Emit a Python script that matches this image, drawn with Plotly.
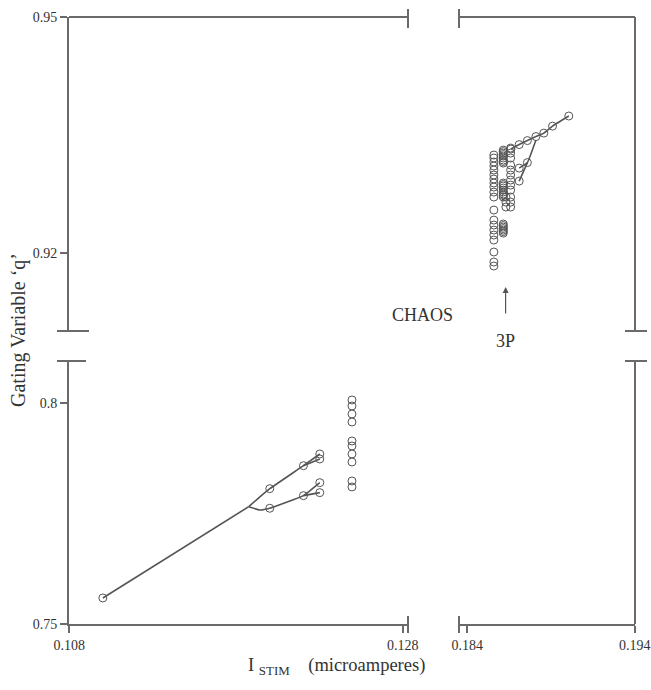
import plotly.graph_objects as go

# ---------------- data ----------------
# bottom-left panel (I_stim 0.108-0.128)
bl_p1_x = [0.11002, 0.11877]
bl_p1_y = [0.75588, 0.77654]
bl_up_x = [0.11877, 0.11927, 0.12003, 0.12205, 0.12303]
bl_up_y = [0.77654, 0.77821, 0.78061, 0.78581, 0.78846]
bl_upfork_x = [0.12205, 0.12303]
bl_upfork_y = [0.78581, 0.78733]
bl_lo_x = [0.11877, 0.11943, 0.12003, 0.12205, 0.12303]
bl_lo_y = [0.77654, 0.77579, 0.77618, 0.77903, 0.78197]
bl_lofork_x = [0.12205, 0.12303]
bl_lofork_y = [0.77903, 0.77971]
bl_pts_x = [0.11002, 0.12003, 0.12205, 0.12303, 0.12303, 0.12003, 0.12205, 0.12303, 0.12303]
bl_pts_y = [0.75588, 0.78061, 0.78581, 0.78846, 0.78733, 0.77618, 0.77903, 0.78197, 0.77971]
bl_col_x = 0.12496
bl_col_y = [0.80068, 0.79932, 0.79751, 0.79570, 0.79140, 0.79027, 0.78846, 0.78665, 0.78235, 0.78100]

# top-right panel (I_stim 0.184-0.194)
tr_p1_x = [0.19006, 0.18909, 0.18857, 0.18810]
tr_p1_y = [0.93742, 0.93614, 0.93525, 0.93481]
tr_up_x = [0.18810, 0.18759, 0.18710, 0.18661]
tr_up_y = [0.93481, 0.93430, 0.93379, 0.93322]
tr_lo_x = [0.18810, 0.18759, 0.18710]
tr_lo_y = [0.93436, 0.93150, 0.93080]
tr_lofork_x = [0.18759, 0.18710]
tr_lofork_y = [0.93150, 0.92915]
tr_pts_x = [0.19006, 0.18909, 0.18857, 0.18810, 0.18759, 0.18710, 0.18661, 0.18759, 0.18710, 0.18710]
tr_pts_y = [0.93742, 0.93614, 0.93525, 0.93481, 0.93430, 0.93379, 0.93322, 0.93150, 0.93080, 0.92915]
chaos_a_x = 0.18559
chaos_a_y = [0.93246, 0.93208, 0.93157, 0.93106, 0.93055, 0.92992, 0.92941, 0.92890, 0.92839,
             0.92775, 0.92712, 0.92547, 0.92419, 0.92356, 0.92292, 0.92229, 0.92165, 0.92013,
             0.91886, 0.91835]
chaos_b_x = 0.18615
chaos_b_y = [0.93309, 0.93290, 0.93271, 0.93252, 0.93233, 0.93208, 0.93182, 0.93163, 0.93144,
             0.92890, 0.92871, 0.92852, 0.92827, 0.92801, 0.92776, 0.92750, 0.92731, 0.92712,
             0.92369, 0.92350, 0.92330, 0.92311, 0.92292, 0.92273, 0.92254]
chaos_c_x = 0.18659
chaos_c_y = [0.93335, 0.93271, 0.93208, 0.93119, 0.93055, 0.92992, 0.92928, 0.92864, 0.92801,
             0.92712, 0.92648, 0.92585]
chaos_d_x = 0.18631
chaos_d_y = [0.92712, 0.92648, 0.92585]

# tick labels
x_left_ticks = [0.108, 0.128]
x_right_ticks = [0.184, 0.194]
y_bottom_ticks = [0.75, 0.8]
y_top_ticks = [0.92, 0.95]

# ---------------- figure ----------------
LC = "#555555"
AC = "#6a6a6a"
FONT = "Liberation Serif"
marker = dict(symbol="circle-open", size=8, color=LC, line=dict(width=1, color=LC))

fig = go.Figure()

def line(x, y, xa, ya):
    fig.add_trace(go.Scatter(x=x, y=y, mode="lines", xaxis=xa, yaxis=ya,
                             line=dict(color=LC, width=1.6, shape="spline", smoothing=0.3),
                             hoverinfo="skip", showlegend=False))

def pts(x, y, xa, ya):
    fig.add_trace(go.Scatter(x=x, y=y, mode="markers", xaxis=xa, yaxis=ya,
                             marker=marker, showlegend=False))

line(bl_p1_x, bl_p1_y, "x", "y")
line(bl_up_x, bl_up_y, "x", "y")
line(bl_upfork_x, bl_upfork_y, "x", "y")
line(bl_lo_x, bl_lo_y, "x", "y")
line(bl_lofork_x, bl_lofork_y, "x", "y")
pts(bl_pts_x, bl_pts_y, "x", "y")
pts([bl_col_x] * len(bl_col_y), bl_col_y, "x", "y")

line(tr_p1_x, tr_p1_y, "x2", "y2")
line(tr_up_x, tr_up_y, "x2", "y2")
line(tr_lo_x, tr_lo_y, "x2", "y2")
line(tr_lofork_x, tr_lofork_y, "x2", "y2")
pts(tr_pts_x, tr_pts_y, "x2", "y2")
pts([chaos_a_x] * len(chaos_a_y), chaos_a_y, "x2", "y2")
pts([chaos_b_x] * len(chaos_b_y), chaos_b_y, "x2", "y2")
pts([chaos_c_x] * len(chaos_c_y), chaos_c_y, "x2", "y2")
pts([chaos_d_x] * len(chaos_d_y), chaos_d_y, "x2", "y2")

W, H = 651, 690
def px(v): return v / W
def py(v): return (H - v) / H

axis_common = dict(showgrid=False, zeroline=False, showline=True, linecolor=AC, linewidth=2,
                   ticks="outside", ticklen=7, tickwidth=1.5, tickcolor=AC,
                   tickfont=dict(family=FONT, size=14, color="#333333"), automargin=False,
                   ticklabeloverflow="allow")

fig.update_layout(
    width=W, height=H, margin=dict(l=0, r=0, t=0, b=0),
    paper_bgcolor="white", plot_bgcolor="white",
    xaxis=dict(domain=[px(69), px(408)], range=[0.10799, 0.12832], anchor="y",
               tickvals=x_left_ticks, ticktext=["0.108", "0.128"], **axis_common),
    xaxis2=dict(domain=[px(459), px(635)], range=[0.18351, 0.19401], anchor="y",
                tickvals=x_right_ticks, ticktext=["0.184", "0.194"], **axis_common),
    yaxis=dict(domain=[py(624), py(361)], range=[0.74999, 0.8095], anchor="x",
               tickvals=y_bottom_ticks, ticktext=["0.75", "0.8"], **axis_common),
    yaxis2=dict(domain=[py(331), py(17)], range=[0.91009, 0.95001], anchor="x",
                tickvals=y_top_ticks, ticktext=["0.92", "0.95"], **axis_common),
)

shapes = []
ls = dict(color=AC, width=2)
# top lines
shapes.append(dict(type="line", xref="x domain", yref="y2 domain", x0=0, x1=1, y0=1, y1=1, line=ls))
shapes.append(dict(type="line", xref="x2 domain", yref="y2 domain", x0=0, x1=1, y0=1, y1=1, line=ls))
# right lines
shapes.append(dict(type="line", xref="x2 domain", yref="y2 domain", x0=1, x1=1, y0=0, y1=1, line=ls))
shapes.append(dict(type="line", xref="x2 domain", yref="y domain", x0=1, x1=1, y0=0, y1=1, line=ls))
# break caps on top line
for xr, xv in (("x domain", 1), ("x2 domain", 0)):
    shapes.append(dict(type="line", xref=xr, x0=xv, x1=xv, yref="y2 domain", ysizemode="pixel",
                       yanchor=1, y0=-11, y1=8, line=ls))
# break caps on bottom line
for xr, xv in (("x domain", 1), ("x2 domain", 0)):
    shapes.append(dict(type="line", xref=xr, x0=xv, x1=xv, yref="y domain", ysizemode="pixel",
                       yanchor=0, y0=-9, y1=8, line=ls))
# break caps on left axis
for yr, yv, a, b in (("y2 domain", 0, -12, 20), ("y domain", 1, -12, 17)):
    shapes.append(dict(type="line", yref=yr, y0=yv, y1=yv, xref="x domain", xsizemode="pixel",
                       xanchor=0, x0=a, x1=b, line=ls))
# break caps on right axis
for yr, yv in (("y2 domain", 0), ("y domain", 1)):
    shapes.append(dict(type="line", yref=yr, y0=yv, y1=yv, xref="x2 domain", xsizemode="pixel",
                       xanchor=1, x0=-10, x1=12, line=ls))
fig.update_layout(shapes=shapes)

tf = dict(family=FONT, size=18, color="#333333")
fig.add_annotation(text="CHAOS", xref="x2 domain", yref="y2", x=-0.21, y=0.91212,
                   xanchor="center", yanchor="middle", showarrow=False, font=tf)
fig.add_annotation(text="3P", xref="x2", yref="y2 domain", x=0.18629, y=-0.032,
                   xanchor="center", yanchor="middle", showarrow=False, font=tf)
fig.add_annotation(text="", xref="x2", yref="y2", x=0.18629, y=0.91568,
                   axref="x2", ayref="y2", ax=0.18629, ay=0.91212,
                   showarrow=True, arrowhead=2, arrowsize=1, arrowwidth=1.2, arrowcolor="#555555")
fig.add_annotation(text="I\u00a0<sub>STIM</sub>\u00a0\u00a0\u00a0 (microamperes)", xref="paper", yref="paper",
                   x=px(336), y=py(666), xanchor="center", yanchor="middle", showarrow=False,
                   font=dict(family=FONT, size=18.5, color="#333333"))
fig.add_annotation(text="Gating Variable \u2018q\u2019", xref="paper", yref="paper",
                   x=px(18), y=py(330), xanchor="center", yanchor="middle", textangle=-90,
                   showarrow=False, font=dict(family=FONT, size=20, color="#333333"))

fig.write_html("out.html", config={"displayModeBar": False},
               post_script="document.body.style.margin='0px';document.body.style.overflow='hidden';")
